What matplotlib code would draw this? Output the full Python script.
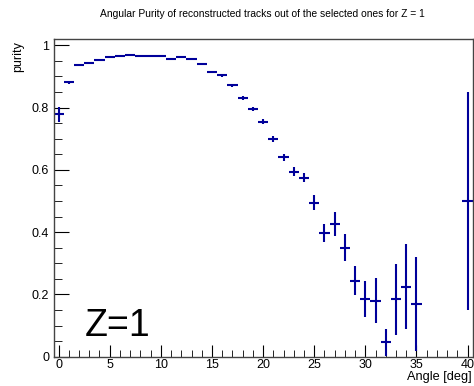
#!/usr/bin/env python3
import matplotlib
matplotlib.use('Agg')
import matplotlib.pyplot as plt
from matplotlib.ticker import MultipleLocator, FuncFormatter

plt.rcParams['font.family'] = ['Liberation Sans', 'DejaVu Sans']

# Purity per 1 deg angle bin (empty bins 36-39 left out)
angles = [0, 1, 2, 3, 4, 5, 6, 7, 8, 9, 10, 11, 12, 13, 14, 15, 16, 17, 18, 19,
          20, 21, 22, 23, 24, 25, 26, 27, 28, 29, 30, 31, 32, 33, 34, 35, 40]
purity = [0.778, 0.881, 0.936, 0.943, 0.953, 0.962, 0.966, 0.969, 0.967, 0.967,
          0.967, 0.957, 0.961, 0.955, 0.939, 0.914, 0.903, 0.872, 0.831, 0.795,
          0.755, 0.698, 0.640, 0.594, 0.575, 0.495, 0.396, 0.426, 0.350, 0.244,
          0.184, 0.180, 0.046, 0.184, 0.225, 0.169, 0.500]
purity_err = [0.024, 0.005, 0.003, 0.003, 0.002, 0.002, 0.002, 0.002, 0.002, 0.002,
              0.002, 0.002, 0.002, 0.002, 0.003, 0.004, 0.004, 0.005, 0.006, 0.007,
              0.008, 0.010, 0.011, 0.014, 0.015, 0.024, 0.029, 0.037, 0.044, 0.046,
              0.058, 0.072, 0.043, 0.115, 0.137, 0.150, 0.350]
bin_half_width = 0.5

fig = plt.figure(figsize=(4.74, 3.86), dpi=100)
ax = fig.add_axes([54 / 474, 1 - 356.7 / 386, 418.7 / 474, 317.7 / 386])

ax.errorbar(angles, purity, xerr=bin_half_width, yerr=purity_err, fmt='none',
            ecolor='#00009a', elinewidth=1.5, capsize=0)

ax.set_xlim(-0.45, 40.5)
ax.set_ylim(0, 1.02)

# ROOT-like frame: ticks inside, only on left and bottom
for side in ['left', 'bottom', 'top', 'right']:
    ax.spines[side].set_color('#444444')
    ax.spines[side].set_linewidth(1.0)
ax.xaxis.set_major_locator(MultipleLocator(5))
ax.xaxis.set_minor_locator(MultipleLocator(1))
ax.yaxis.set_major_locator(MultipleLocator(0.2))
ax.yaxis.set_minor_locator(MultipleLocator(0.05))
ax.yaxis.set_major_formatter(FuncFormatter(lambda v, p: '%g' % round(v, 2)))
ax.tick_params(which='both', direction='in', top=False, right=False,
               labelsize=9, colors='black')
ax.tick_params(axis='y', which='major', length=11, pad=3.5)
ax.tick_params(axis='y', which='minor', length=6)
ax.tick_params(axis='x', which='major', length=9, pad=2)
ax.tick_params(axis='x', which='minor', length=5)

fig.text(18 / 474, 1 - 41 / 386, 'purity', rotation=90, ha='center', va='top', fontsize=9)
fig.text(472 / 474, 1 - 377 / 386, 'Angle [deg]', ha='right', va='center', fontsize=9.2)
fig.text(262.5 / 474, 1 - 14 / 386,
         'Angular Purity of reconstructed tracks out of the selected ones for Z = 1',
         ha='center', va='center', fontsize=7.4)
ax.text(0.074, 0.065, 'Z=1', transform=ax.transAxes, ha='left', va='baseline', fontsize=27)

fig.savefig('out.png', dpi=100)
